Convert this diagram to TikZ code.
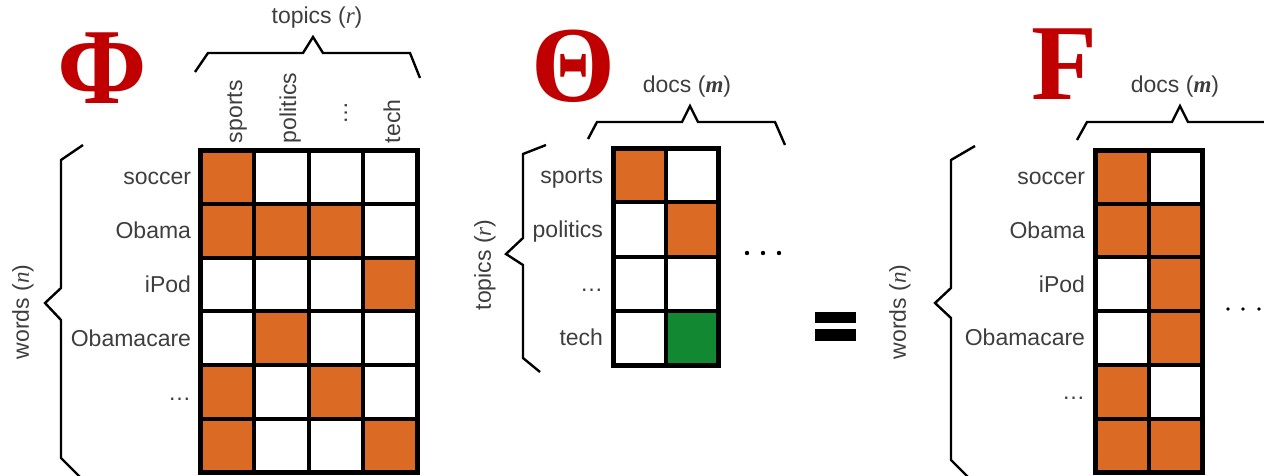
\documentclass[tikz,border=0pt]{standalone}
\usepackage{fontspec}
\setmainfont{Liberation Sans}
\newfontfamily\tmserif{Liberation Serif}
\definecolor{cell0}{RGB}{255,255,255}
\definecolor{cell1}{RGB}{219,106,37}
\definecolor{cell2}{RGB}{19,136,51}
\definecolor{txt}{RGB}{62,62,62}
\definecolor{bigred}{RGB}{192,0,0}
\tikzset{
  cell/.style={draw=black, line width=4pt, inner sep=0pt, outer sep=0pt},
  lbl/.style={font=\fontsize{23}{26}\selectfont, text=txt, inner sep=0pt, outer sep=0pt},
  big/.style={font=\tmserif\bfseries\fontsize{108}{108}\selectfont, text=bigred, inner sep=0pt, anchor=base},
  brace/.style={line width=2.4pt, line join=miter, draw=black},
  border/.style={draw=black, line width=5pt}
}
\newcommand\tmgrid[6]{%
  \foreach \row [count=\i] in {#6} {
    \foreach \v [count=\j] in \row {
      \node[cell, fill=cell\v, minimum width=#4pt, minimum height=#5pt]
        (#1-\i-\j) at ({#2+(\j-0.5)*#4},{#3+(\i-0.5)*#5}) {};
    }
  }
}
\begin{document}
\begin{tikzpicture}[x=1pt,y=-1pt]
\useasboundingbox (0,0) rectangle (1264,475);

% ---------------- Phi ----------------
\node[big] (phi) at (102,103) {Φ};
\tmgrid{p}{200}{150}{54.25}{53.8}{{1,0,0,0},{1,1,1,0},{0,0,0,1},{0,1,0,0},{1,0,1,0},{1,0,0,1}}
\draw[border] (p-1-1.north west) rectangle (p-6-4.south east);
\foreach \t [count=\i] in {soccer,Obama,iPod,Obamacare,\ldots}
  \node[lbl, anchor=base east] (pl\i) at (191,{150+(\i-0.5)*53.8+8}) {\t};
\node[lbl, anchor=base west, rotate=90] (pc1) at (242,143) {sports};
\node[lbl, anchor=base west, rotate=90] (pc2) at (296,143) {politics};
\node[lbl, anchor=base west, rotate=90] (pc3) at (347,124) {\ldots};
\node[lbl, anchor=base west, rotate=90] (pc4) at (400,143) {tech};
\node[lbl] (ptop) at (317,18) {topics ({\tmserif\itshape r})};
\draw[brace] (195,72) -- (208,53) -- (303,53) -- (313,37) -- (323,53) -- (410,53) -- (420,78);
\draw[brace] (83,145) -- (61,160) -- (61,288) -- (45,303) -- (61,320) -- (61,458) -- (80,477);
\node[lbl, rotate=90] (pleft) at (23,312) {words ({\tmserif\itshape n})};

% ---------------- Theta ----------------
\node[big] (theta) at (573,101) {Θ};
\tmgrid{t}{613}{148}{52.5}{54.25}{{1,0},{0,1},{0,0},{0,2}}
\draw[border] (t-1-1.north west) rectangle (t-4-2.south east);
\foreach \t [count=\i] in {sports,politics,\ldots,tech}
  \node[lbl, anchor=base east] (tl\i) at (603,{148+(\i-0.5)*54.25+8}) {\t};
\node[lbl] (ttop) at (687,87) {docs ({\tmserif\itshape\bfseries m})};
\draw[brace] (588,139) -- (597,122) -- (682,122) -- (690,106) -- (698,122) -- (775,122) -- (785,145);
\draw[brace] (546,145) -- (523,154) -- (523,238) -- (506,254) -- (523,265) -- (523,358) -- (540,372);
\node[lbl, rotate=90] (tleft) at (485,265) {topics ({\tmserif\itshape r})};
\foreach \x [count=\i] in {747,763,779}
  \fill (\x,253) coordinate (td\i) circle (2.2);

% ---------------- equals ----------------
\fill (815,312) rectangle (856,323);
\fill (815,329) rectangle (856,341);

% ---------------- F ----------------
\node[big] (fmat) at (1064,99) {F};
\tmgrid{f}{1095}{150}{53.5}{53.7}{{1,0},{1,1},{0,1},{0,1},{1,0},{1,1}}
\draw[border] (f-1-1.north west) rectangle (f-6-2.south east);
\foreach \t [count=\i] in {soccer,Obama,iPod,Obamacare,\ldots}
  \node[lbl, anchor=base east] (fl\i) at (1085,{150+(\i-0.5)*53.7+8}) {\t};
\node[lbl] (ftop) at (1175,87) {docs ({\tmserif\itshape\bfseries m})};
\draw[brace] (1077,140) -- (1087,122) -- (1172,122) -- (1180,106) -- (1188,122) -- (1272,122);
\draw[brace] (975,146) -- (951,160) -- (951,288) -- (935,303) -- (951,318) -- (951,460) -- (968,477);
\node[lbl, rotate=90] (fleft) at (900,312) {words ({\tmserif\itshape n})};
\foreach \x [count=\i] in {1228,1243,1259}
  \fill (\x,309) coordinate (fd\i) circle (1.9);
\end{tikzpicture}
\end{document}
